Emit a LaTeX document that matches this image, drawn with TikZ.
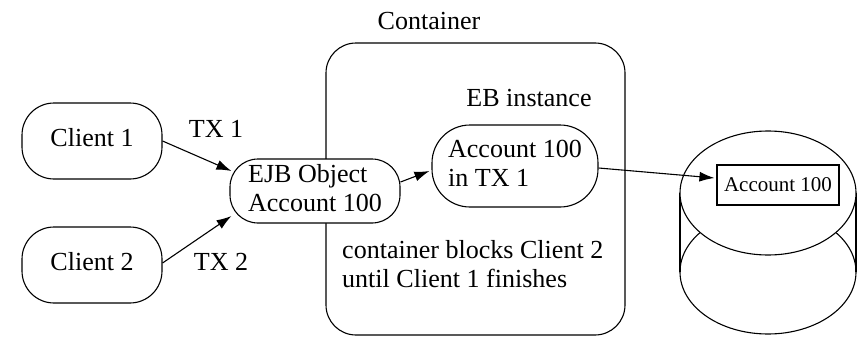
\documentclass[tikz,border=0pt]{standalone}
\usepackage{fontspec}
\setmainfont{Liberation Serif}
\usetikzlibrary{arrows.meta}
% diagram text: 21pt serif enlarged to about 26pt
\newcommand\dtext[1]{\scalebox{1.24}{\fontsize{21}{23.4}\selectfont
  \begin{tabular}{@{}l@{}}#1\end{tabular}}}
\tikzset{
  every picture/.style={x=1pt,y=-1pt},
  lbl/.style={inner sep=0pt},
  pill/.style={draw,fill=white,line width=1.1pt,rounded corners=32pt,inner sep=0pt},
  conn/.style={line width=1.1pt,-{Latex[length=15pt,width=10pt]}},
  outline/.style={line width=1.1pt}
}
\begin{document}
\begin{tikzpicture}
\useasboundingbox (0,0) rectangle (863,340);
% container
\draw[outline,rounded corners=30pt] (326,43) rectangle (625,335);
\node[lbl] (ctitle) at (429,24) {\dtext{Container}};
\node[lbl] (ebtitle) at (529,101) {\dtext{EB instance}};
\node[lbl,anchor=west] (note) at (342,267) {\dtext{container blocks Client 2\\until Client 1 finishes}};

% clients and beans
\node[pill,minimum width=140pt,minimum height=76pt] (c1) at (92,141) {\dtext{Client 1}};
\node[pill,minimum width=140pt,minimum height=76pt] (c2) at (92,265) {\dtext{Client 2}};
\node[pill,rounded corners=28pt,minimum width=170pt,minimum height=64pt] (ejb) at (315,191) {\dtext{EJB Object\\Account 100}};
\node[pill,rounded corners=38pt,minimum width=166pt,minimum height=82pt] (eb) at (515,166) {\dtext{Account 100\\in TX 1}};
\node[lbl] (tx1) at (216,132) {\dtext{TX 1}};
\node[lbl] (tx2) at (221,265) {\dtext{TX 2}};

% database cylinder
\draw[outline] (768,272) ellipse [x radius=88, y radius=62];
\draw[outline] (680,193) -- (680,272) (856,193) -- (856,272);
\draw[outline,fill=white] (768,193) ellipse [x radius=88, y radius=62];
\node[draw,fill=white,line width=1.1pt,minimum width=122pt,minimum height=40pt,inner sep=0pt,
  font=\fontsize{21}{24}\selectfont] (acc) at (778,185) {Account 100};

% connectors
\draw[conn] (c1.east) -- ([xshift=2pt,yshift=20pt]ejb.west);
\draw[conn] ([yshift=2pt]c2.east) -- ([xshift=2pt,yshift=-25pt]ejb.west);
\draw[conn] ([yshift=9pt]ejb.east) -- ([xshift=-2pt,yshift=-5pt]eb.west);
\draw[conn] ([yshift=-2pt]eb.east) -- ([xshift=-2pt,yshift=7pt]acc.west);
\end{tikzpicture}
\end{document}
